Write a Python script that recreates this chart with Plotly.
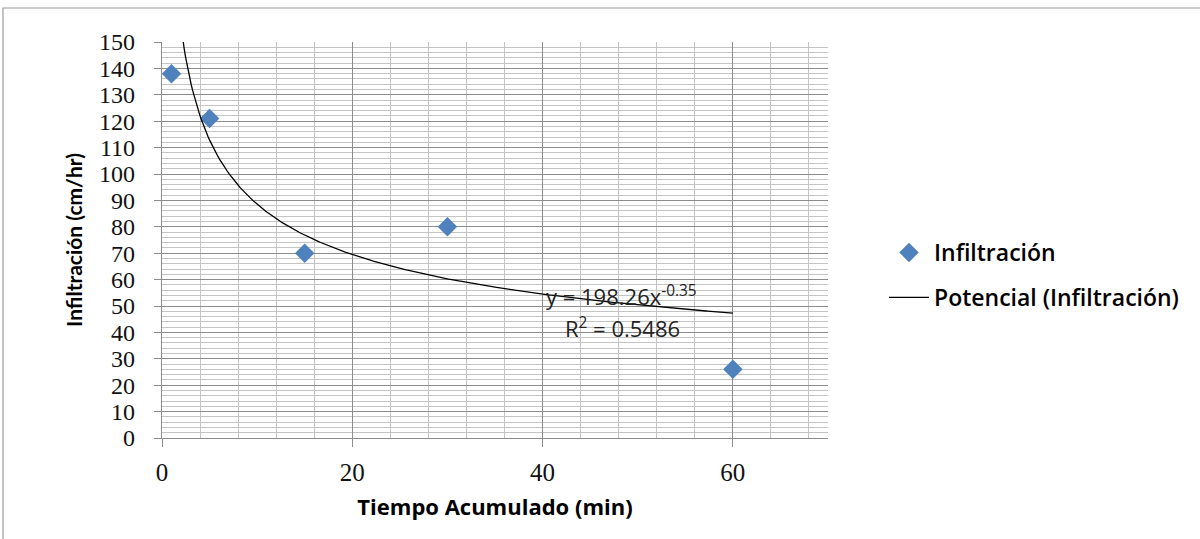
import numpy as np
import plotly.graph_objects as go

# Data
tiempo = [1, 5, 15, 30, 60]
infiltracion = [138, 121, 70, 80, 26]
coef_a = 198.26
coef_b = -0.35
r2 = 0.5486
x_ticks = [0, 20, 40, 60]
y_ticks = list(range(0, 151, 10))

W, H = 1200, 539
L, R, T, B = 162, 828, 42, 438

xt = np.linspace(min(tiempo), max(tiempo), 400)
yt = coef_a * xt ** coef_b

fig = go.Figure()
fig.add_trace(go.Scatter(
    x=tiempo, y=infiltracion, mode="markers", name="Infiltración",
    legendgroup="a",
    marker=dict(symbol="diamond", color="#4F81BD", size=15, line=dict(width=0)),
))
fig.add_trace(go.Scatter(
    x=xt, y=yt, mode="lines", name="Potencial (Infiltración)",
    legendgroup="b",
    line=dict(color="#000000", width=1.3),
))

def px2x(px):
    return (px - L) / (R - L)

def py2y(py):
    return (B - py) / (B - T)

eq_font = dict(family="Open Sans", size=22, color="#222")
fig.add_annotation(
    x=px2x(544), y=py2y(313), xref="paper", yref="paper",
    xanchor="left", yanchor="bottom",
    text=f"y = {coef_a}x<sup>{coef_b}</sup>", showarrow=False, font=eq_font,
)
fig.add_annotation(
    x=px2x(563), y=py2y(310), xref="paper", yref="paper",
    xanchor="left", yanchor="top",
    text=f"R<sup>2</sup> = {r2}", showarrow=False, font=eq_font,
)

# outer chart border
fig.add_shape(type="rect", xref="paper", yref="paper",
              x0=px2x(3), x1=px2x(1205), y0=py2y(545), y1=py2y(8),
              line=dict(color="#999", width=1.2), layer="below")

fig.update_layout(
    width=W, height=H,
    margin=dict(l=L, r=W - R, t=T, b=H - B, pad=0),
    paper_bgcolor="white", plot_bgcolor="white",
    font=dict(family="Open Sans", color="#000"),
    showlegend=True,
    legend=dict(
        x=px2x(884), y=py2y(275), xanchor="left", yanchor="middle",
        font=dict(family="Open Sans", size=23, color="#000", weight=600),
        bgcolor="rgba(0,0,0,0)", tracegroupgap=12, itemwidth=40,
    ),
    xaxis=dict(
        range=[0, 70], tickvals=x_ticks, showgrid=True,
        gridcolor="#8c8c8c", gridwidth=1.3,
        minor=dict(dtick=4, showgrid=True, gridcolor="#c4c4c4", gridwidth=1),
        zeroline=False, showline=True, linecolor="#8c8c8c", linewidth=1.3,
        ticks="outside", ticklen=8, tickcolor="#8c8c8c",
        ticklabelstandoff=4,
        tickfont=dict(family="Liberation Serif", size=25, color="#111"),
        title=dict(text="<b>Tiempo Acumulado (min)</b>", standoff=14,
                   font=dict(family="Open Sans", size=22, color="#000")),
        fixedrange=True,
    ),
    yaxis=dict(
        range=[0, 150], tickvals=y_ticks, showgrid=True,
        gridcolor="#8c8c8c", gridwidth=1.3,
        minor=dict(dtick=2, showgrid=True, gridcolor="#c4c4c4", gridwidth=1),
        zeroline=False, showline=True, linecolor="#8c8c8c", linewidth=1.3,
        ticks="outside", ticklen=7, tickcolor="#8c8c8c",
        ticklabelstandoff=14,
        tickfont=dict(family="Liberation Serif", size=24, color="#111"),
        title=dict(text="<b>Infiltración (cm/hr)</b>", standoff=10,
                   font=dict(family="Lato", size=21, color="#000")),
        fixedrange=True,
    ),
)

fig.write_html("out.html", config={"displayModeBar": False},
               post_script="document.body.style.margin='0';document.body.style.overflow='hidden';")
